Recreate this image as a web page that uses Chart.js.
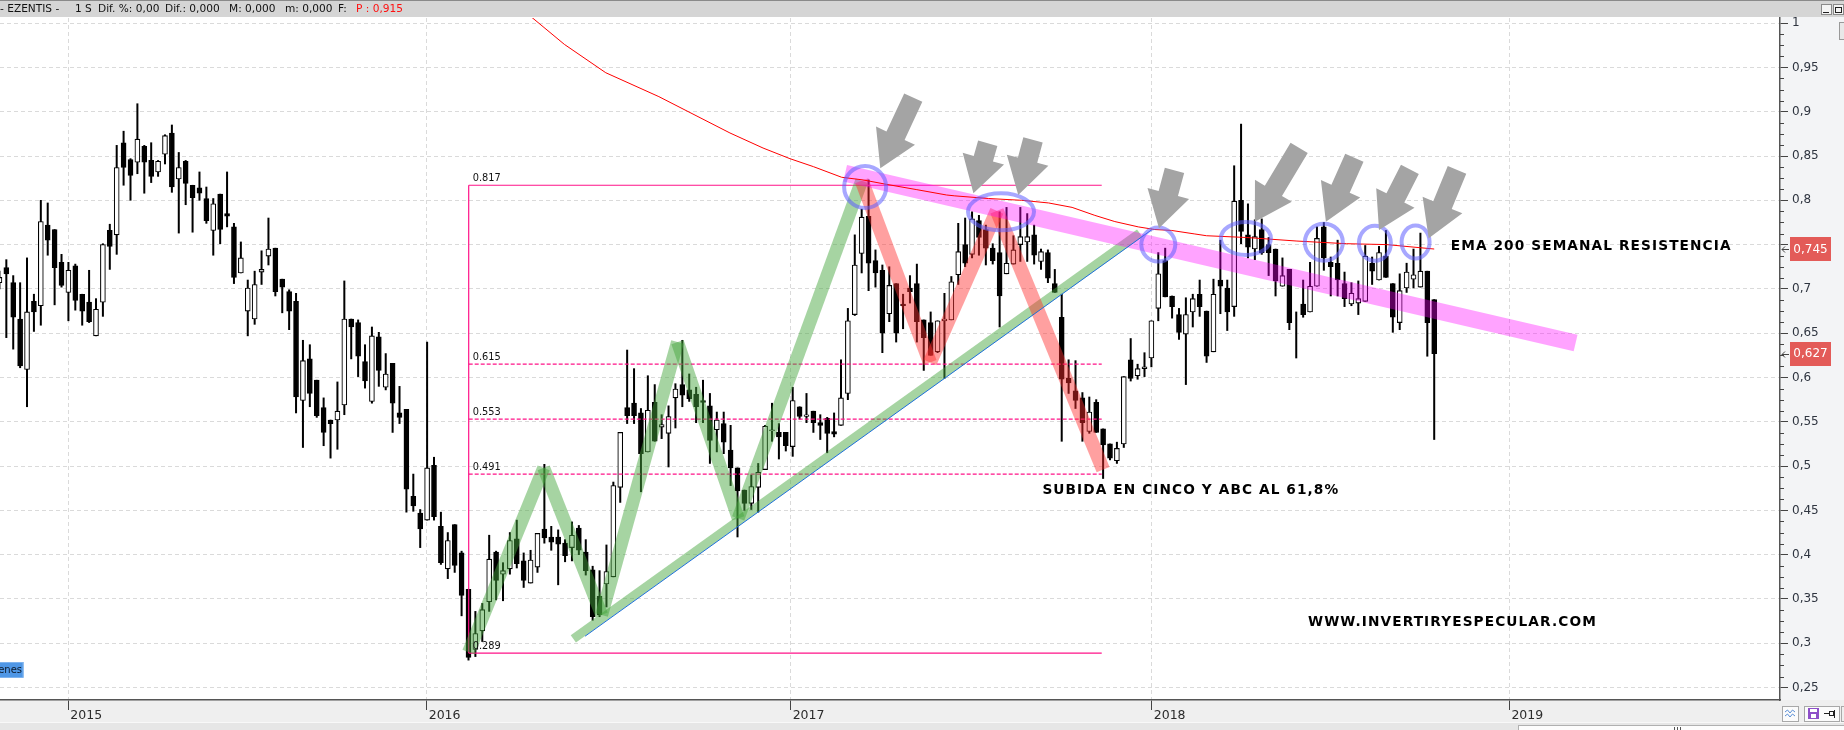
<!DOCTYPE html>
<html><head><meta charset="utf-8">
<script src="https://cdn.jsdelivr.net/npm/chart.js@4.4.1/dist/chart.umd.min.js"></script>
<style>html,body{margin:0;padding:0;background:#fff;overflow:hidden}canvas{display:block}</style>
</head><body>
<canvas id="c" width="1844" height="730"></canvas>
<script>
// ---- weekly OHLC (week index 0 = first visible week, late 2014) ----
const opens = [.707,.724,.707,.666,.609,.686,.681,.772,.767,.730,.696,.726,.694,.685,.647,.685,.766,.761,.865,.846,
.843,.861,.845,.832,.852,.876,.824,.844,.817,.814,.802,.766,.807,.785,.770,.718,.675,.666,.719,.737,
.746,.711,.697,.686,.574,.621,.597,.566,.552,.552,.569,.666,.662,.618,.573,.646,.589,.616,.560,.564,
.466,.447,.439,.501,.432,.384,.434,.402,.361,.293,.314,.347,.403,.378,.384,.418,.393,.368,.386,.429,
.420,.420,.413,.408,.430,.403,.383,.353,.367,.375,.476,.566,.571,.560,.516,.572,.544,.537,.577,.592,
.586,.581,.574,.568,.541,.548,.518,.498,.473,.458,.476,.496,.540,.538,.538,.522,.567,.556,.562,.549,
.554,.539,.546,.582,.671,.740,.782,.732,.721,.672,.706,.683,.701,.706,.665,.662,.629,.664,.665,.716,
.750,.739,.777,.767,.746,.741,.717,.728,.750,.753,.761,.731,.741,.706,.668,.599,.585,.577,.539,.572,
.542,.525,.506,.525,.620,.602,.610,.622,.678,.732,.692,.671,.649,.674,.694,.675,.629,.710,.701,.680,
.800,.761,.745,.767,.750,.745,.703,.722,.670,.683,.674,.703,.770,.730,.729,.706,.683,.684,.686,.729,
.710,.737,.706,.662,.701,.711,.702,.720,.688];
const highs = [.720,.733,.715,.707,.735,.694,.800,.797,.767,.739,.730,.728,.694,.721,.689,.751,.773,.862,.878,.847,
.909,.862,.865,.845,.874,.885,.854,.845,.817,.832,.815,.802,.807,.832,.774,.753,.710,.720,.743,.780,
.746,.711,.699,.695,.642,.637,.597,.577,.552,.595,.709,.666,.665,.637,.657,.651,.627,.616,.590,.564,
.491,.451,.640,.510,.448,.425,.434,.404,.361,.336,.345,.422,.404,.391,.425,.439,.402,.405,.424,.502,
.432,.428,.417,.437,.433,.417,.387,.382,.411,.482,.538,.631,.610,.565,.602,.592,.558,.568,.593,.642,
.604,.589,.597,.582,.561,.561,.546,.498,.473,.490,.503,.546,.571,.548,.538,.589,.567,.582,.562,.558,
.555,.560,.620,.678,.761,.790,.823,.744,.727,.725,.706,.694,.715,.728,.665,.674,.664,.695,.714,.774,
.780,.787,.783,.772,.751,.787,.792,.760,.792,.785,.772,.745,.744,.722,.694,.620,.619,.583,.578,.575,
.542,.525,.527,.601,.644,.615,.628,.664,.741,.746,.692,.678,.690,.694,.710,.675,.711,.755,.710,.839,
.886,.796,.778,.779,.758,.745,.735,.722,.674,.710,.730,.770,.775,.736,.755,.719,.707,.709,.749,.736,
.748,.766,.706,.717,.729,.745,.763,.720,.688];
const lows = [.700,.645,.632,.611,.567,.652,.659,.738,.682,.702,.664,.676,.659,.662,.647,.669,.722,.739,.817,.800,
.830,.808,.820,.827,.841,.809,.763,.795,.764,.800,.774,.738,.751,.770,.706,.718,.647,.660,.705,.727,
.692,.673,.654,.560,.521,.567,.555,.523,.509,.519,.558,.621,.601,.588,.571,.590,.586,.538,.548,.448,
.449,.408,.439,.439,.389,.373,.380,.331,.281,.285,.302,.336,.349,.348,.378,.385,.363,.368,.380,.413,
.405,.366,.392,.393,.400,.377,.326,.330,.341,.375,.459,.548,.548,.471,.516,.528,.531,.499,.543,.567,
.573,.549,.549,.503,.516,.514,.478,.420,.450,.451,.448,.496,.528,.508,.517,.511,.553,.549,.538,.530,
.515,.533,.546,.575,.670,.718,.698,.702,.628,.663,.640,.655,.684,.640,.608,.625,.628,.599,.665,.705,
.725,.735,.738,.727,.728,.657,.717,.728,.731,.731,.728,.722,.707,.696,.528,.582,.565,.528,.537,.538,
.486,.507,.503,.521,.596,.598,.601,.612,.664,.691,.667,.643,.592,.657,.669,.617,.629,.672,.653,.669,
.751,.735,.733,.739,.715,.692,.703,.654,.622,.668,.674,.703,.721,.692,.692,.680,.681,.671,.686,.705,
.710,.713,.651,.654,.696,.701,.702,.624,.530];
const closes = [.713,.717,.668,.613,.674,.674,.776,.755,.724,.704,.721,.687,.675,.663,.677,.750,.748,.837,.837,.828,
.869,.843,.827,.844,.873,.815,.837,.819,.803,.808,.777,.796,.767,.782,.713,.735,.701,.705,.722,.745,
.697,.702,.675,.578,.619,.582,.557,.538,.548,.562,.666,.657,.624,.596,.647,.608,.604,.571,.555,.474,
.455,.429,.498,.443,.391,.416,.388,.354,.284,.311,.338,.395,.371,.382,.416,.390,.371,.394,.424,.419,
.414,.412,.399,.422,.405,.382,.330,.332,.381,.478,.538,.557,.557,.514,.563,.528,.547,.556,.587,.580,
.576,.567,.572,.529,.552,.527,.498,.472,.458,.477,.493,.545,.541,.533,.523,.574,.556,.558,.549,.546,
.537,.536,.577,.664,.727,.781,.729,.718,.650,.704,.650,.681,.697,.663,.645,.625,.664,.666,.708,.742,
.729,.779,.758,.746,.732,.692,.729,.744,.759,.759,.738,.742,.712,.696,.598,.594,.574,.549,.561,.538,
.524,.509,.520,.601,.599,.610,.612,.664,.717,.691,.680,.651,.671,.689,.680,.624,.694,.703,.674,.799,
.765,.747,.759,.741,.741,.709,.715,.662,.670,.671,.703,.757,.735,.725,.710,.689,.695,.689,.737,.720,
.741,.713,.668,.698,.719,.716,.720,.662,.627];

// ---- axes ----
const yearLabels = ['2015','2016','2017','2018','2019'];
const yearWeeks = [9.98, 61.94, 114.7, 167.05, 218.9];
const yTickValues = [0.25,0.3,0.35,0.4,0.45,0.5,0.55,0.6,0.65,0.7,0.75,0.8,0.85,0.9,0.95,1];
const yTickLabels = ['0,25','0,3','0,35','0,4','0,45','0,5','0,55','0,6','0,65','0,7','0,75','0,8','0,85','0,9','0,95','1'];

// ---- EMA 200 weekly ----
const emaWeeks = [77.1,81.9,87.9,95.6,105.9,110.7,114.6,118.0,122.1,125.2,128.6,133.0,137.3,138.5,143.4,148.2,152.1,155.5,158.8,161.7,165.1,167.5,169.9,173.3,175.0,180.8,188.1,195.3,201.1,208.0];
const emaValues = [1.007,0.976,0.944,0.917,0.876,0.859,0.847,0.838,0.826,0.823,0.818,0.812,0.806,0.805,0.802,0.800,0.797,0.792,0.783,0.776,0.770,0.767,0.766,0.762,0.760,0.758,0.754,0.751,0.750,0.745];

// ---- Fibonacci retracement ----
const fibLevels = [0.817, 0.615, 0.553, 0.491, 0.289];
const fibLabels = ['0.817','0.615','0.553','0.491','0.289'];
const fibWeeks = [68.03, 159.8];

// ---- drawn waves and trend lines ----
const greenWaveWeeks = [68.0, 78.9, 87.3, 98.3, 107.1, 125.0];
const greenWavePrices = [0.290, 0.498, 0.332, 0.640, 0.441, 0.822];
const redWaveWeeks = [125.0, 134.9, 144.6, 160.0];
const redWavePrices = [0.822, 0.617, 0.788, 0.496];
const supportWeeks = [83.2, 165.3];
const supportPrices = [0.305, 0.763];
const blueWeeks = [84.9, 167.0];
const bluePrices = [0.308, 0.7665];
const resistWeeks = [122.6, 228.5];
const resistPrices = [0.8305, 0.639];

// ---- circles and arrows (anchors) ----
const circleWeeks = [125.5, 145.2, 168.0, 180.7, 192.0, 199.4, 205.3];
const circlePrices = [0.815, 0.787, 0.750, 0.757, 0.7526, 0.7515, 0.7529];
const arrowWeeks = [127.7, 141.2, 147.7, 168.1, 182.0, 192.3, 200.0, 207.2];
const arrowPrices = [0.8361, 0.8079, 0.8060, 0.7684, 0.7759, 0.7759, 0.7665, 0.7571];

// ---- notes ----
const noteTexts = ['EMA 200 SEMANAL RESISTENCIA', 'SUBIDA EN CINCO Y ABC AL 61,8%', 'WWW.INVERTIRYESPECULAR.COM'];
const noteWeeks = [210.4, 151.2, 189.7];
const notePrices = [0.7477, 0.4726, 0.3239];

// ===== styles (pixel sizes) =====
const circleRadii = [[21,21],[33,18.5],[17,17],[25,16.5],[19,18.5],[16,17.5],[14,16.5]];
const arrowStyle = {angle:[25,16,15,15,31,24,27,22.5], length:[78,52,57,60,86,70,68,74], headLen:36, headW:43, shaftW:20};

const weeks = opens.map((_, i) => i);
function lineDs(xs, ys, color, width, order, dash) {
  return {type:'line', data: xs.map((x,k)=>({x:x, y:ys[k]})), borderColor:color, borderWidth:width,
    pointRadius:0, pointHoverRadius:0, fill:false, tension:0, order:order, borderDash:dash||[],
    borderCapStyle:'butt', borderJoinStyle:'miter', clip: {left:0,top:0,right:0,bottom:0}};
}
const datasets = [];
datasets.push({type:'bar', data: weeks.map(i=>({x:i, y:[lows[i], highs[i]]})), backgroundColor:'#000',
  barThickness:1.35, grouped:false, order:20});
datasets.push({type:'bar', data: weeks.map(i=>({x:i, y:[Math.min(opens[i],closes[i]), Math.max(opens[i],closes[i])]})),
  backgroundColor: weeks.map(i=> closes[i] >= opens[i] ? '#fff' : '#000'), borderColor:'#000', borderWidth:1.1,
  borderSkipped:false, barThickness:5, grouped:false, order:19});
// fib
const fibColor = '#ff1288';
fibLevels.forEach((lv, k) => {
  const dashed = k > 0 && k < fibLevels.length - 1;
  datasets.push(lineDs(fibWeeks, [lv, lv], fibColor, 1.2, 15, dashed ? [4,2] : []));
});
datasets.push(lineDs([fibWeeks[0], fibWeeks[0]], [fibLevels[0], fibLevels[fibLevels.length-1]], fibColor, 1.2, 15));
// waves
for (let k = 0; k < greenWaveWeeks.length - 1; k++)
  datasets.push(lineDs(greenWaveWeeks.slice(k,k+2), greenWavePrices.slice(k,k+2), 'rgba(70,165,60,0.48)', 13, 12));
for (let k = 0; k < redWaveWeeks.length - 1; k++)
  datasets.push(lineDs(redWaveWeeks.slice(k,k+2), redWavePrices.slice(k,k+2), 'rgba(255,45,45,0.45)', 14, 11));
datasets.push(lineDs(supportWeeks, supportPrices, 'rgba(70,165,60,0.48)', 9, 12));
datasets.push(lineDs(blueWeeks, bluePrices, '#1d6fdc', 1, 9));
datasets.push(lineDs(resistWeeks, resistPrices, 'rgba(255,0,255,0.36)', 17, 10));
datasets.push(lineDs(emaWeeks, emaValues, '#ff0000', 1, 5));

const lastValues = [emaValues[emaValues.length-1], closes[closes.length-1]];

const deco = {
  id:'deco',
  beforeDraw(chart) {
    const ctx = chart.ctx;
    ctx.save();
    ctx.fillStyle = '#fff'; ctx.fillRect(0,0,1844,730);
    // right panel
    ctx.fillStyle = '#f3f4f6'; ctx.fillRect(1780,17,64,684);
    // bottom panel
    ctx.fillStyle = '#efefef'; ctx.fillRect(0,700,1844,30);
    ctx.fillStyle = '#f8f8f8'; ctx.fillRect(0,722,1844,1);
    ctx.fillStyle = '#e6e6e6'; ctx.fillRect(0,723,1844,7);
    // header
    ctx.fillStyle = '#d5d5d5'; ctx.fillRect(0,0,1844,17);
    ctx.fillStyle = '#8a8a8a'; ctx.fillRect(0,0,1844,1);
    ctx.font = '10.6px "DejaVu Sans"'; ctx.textBaseline = 'middle'; ctx.fillStyle = '#111';
    const parts = [[0,'- EZENTIS -'],[75,'1 S'],[98,'Dif. %: 0,00'],[165,'Dif.: 0,000'],[229,'M: 0,000'],[285,'m: 0,000'],[338,'F:']];
    parts.forEach(p => ctx.fillText(p[1], p[0], 9.5));
    ctx.fillStyle = '#ff1010'; ctx.fillText('P : 0,915', 356, 9.5);
    ctx.restore();
  },
  afterDatasetsDraw(chart) {
    const ctx = chart.ctx, xs = chart.scales.x, ys = chart.scales.y, a = chart.chartArea;
    ctx.save();
    ctx.beginPath(); ctx.rect(a.left, a.top, a.right - a.left, a.bottom - a.top); ctx.clip();
    // fib labels
    ctx.font = '9.8px "DejaVu Sans"'; ctx.fillStyle = '#111'; ctx.textBaseline = 'alphabetic';
    fibLevels.forEach((lv,k) => ctx.fillText(fibLabels[k], xs.getPixelForValue(fibWeeks[0]) + 4, ys.getPixelForValue(lv) - 4));
    // circles
    ctx.strokeStyle = 'rgba(95,95,255,0.55)'; ctx.lineWidth = 4;
    circleWeeks.forEach((w,k) => {
      ctx.beginPath();
      ctx.ellipse(xs.getPixelForValue(w), ys.getPixelForValue(circlePrices[k]), circleRadii[k][0], circleRadii[k][1], 0, 0, Math.PI*2);
      ctx.stroke();
    });
    // arrows
    ctx.fillStyle = '#a4a4a4';
    arrowWeeks.forEach((w,k) => {
      const tx = xs.getPixelForValue(w), ty = ys.getPixelForValue(arrowPrices[k]);
      const an = arrowStyle.angle[k]*Math.PI/180, len = arrowStyle.length[k];
      const dx = Math.sin(an), dy = -Math.cos(an), px = Math.cos(an), py = Math.sin(an);
      const hl = arrowStyle.headLen, hw = arrowStyle.headW/2, sw = arrowStyle.shaftW/2;
      const bx = tx + dx*hl, by = ty + dy*hl, ex = tx + dx*len, ey = ty + dy*len;
      ctx.beginPath();
      ctx.moveTo(tx,ty);
      ctx.lineTo(bx+px*hw, by+py*hw);
      ctx.lineTo(bx+px*sw, by+py*sw);
      ctx.lineTo(ex+px*sw, ey+py*sw);
      ctx.lineTo(ex-px*sw, ey-py*sw);
      ctx.lineTo(bx-px*sw, by-py*sw);
      ctx.lineTo(bx-px*hw, by-py*hw);
      ctx.closePath(); ctx.fill();
    });
    // notes
    ctx.font = 'bold 13.7px "DejaVu Sans"'; ctx.fillStyle = '#000'; ctx.textBaseline = 'middle';
    try { ctx.letterSpacing = '1.1px'; } catch(e) {}
    noteTexts.forEach((t,k) => ctx.fillText(t, xs.getPixelForValue(noteWeeks[k]), ys.getPixelForValue(notePrices[k])));
    ctx.restore();
  },
  afterDraw(chart) {
    const ctx = chart.ctx, ys = chart.scales.y, a = chart.chartArea;
    ctx.save();
    // minor ticks on price axis
    ctx.strokeStyle = '#444'; ctx.lineWidth = 1;
    for (let k = 0; k < yTickValues.length - 1; k++) {
      for (let m = 1; m <= 3; m++) {
        const v = yTickValues[k] + (yTickValues[k+1]-yTickValues[k])*m/4;
        const py = Math.round(ys.getPixelForValue(v)) + 0.5;
        ctx.beginPath(); ctx.moveTo(a.right, py); ctx.lineTo(a.right + 4, py); ctx.stroke();
      }
    }
    // last value labels
    lastValues.forEach(v => {
      const py = ys.getPixelForValue(v);
      ctx.fillStyle = '#e35b58'; ctx.fillRect(a.right + 10, Math.round(py) - 12, 41, 24);
      ctx.fillStyle = '#fff'; ctx.font = '12px "DejaVu Sans"'; ctx.textAlign = 'center'; ctx.textBaseline = 'middle';
      ctx.fillText(v.toFixed(3).replace('.', ','), a.right + 30.5, py + 0.5);
      ctx.strokeStyle = '#444'; ctx.lineWidth = 1;
      const yy = Math.round(py) + 0.5;
      ctx.beginPath(); ctx.moveTo(a.right + 2, yy); ctx.lineTo(a.right + 9, yy);
      ctx.moveTo(a.right + 5, yy - 3); ctx.lineTo(a.right + 2, yy); ctx.lineTo(a.right + 5, yy + 3); ctx.stroke();
    });
    ctx.textAlign = 'left';
    // 'enes' box
    ctx.fillStyle = '#4f97e6'; ctx.fillRect(0, 662, 23.5, 15.5);
    ctx.strokeStyle = '#7fb3ee'; ctx.lineWidth = 1; ctx.strokeRect(-1, 662.5, 24, 15);
    ctx.fillStyle = '#0d1a2b'; ctx.font = '10px "DejaVu Sans"'; ctx.textAlign = 'right'; ctx.textBaseline = 'middle';
    ctx.fillText('enes', 22, 670);
    ctx.textAlign = 'left';
    // top-right window buttons
    ctx.fillStyle = '#f4f4f4'; ctx.strokeStyle = '#8a8a8a';
    ctx.fillRect(1821, 4, 10, 10); ctx.strokeRect(1821.5, 4.5, 10, 10);
    ctx.fillRect(1833, 4, 10, 10); ctx.strokeRect(1833.5, 4.5, 10, 10);
    ctx.fillStyle = '#222'; ctx.fillRect(1823, 12, 6, 1); ctx.strokeStyle = '#222'; ctx.strokeRect(1835.5, 7.5, 6, 5);
    ctx.fillStyle = '#e8e8e8'; ctx.strokeStyle = '#999'; ctx.fillRect(1839, 22, 6, 18); ctx.strokeRect(1839.5, 22.5, 6, 17);
    // bottom-right buttons
    ctx.fillStyle = '#fbfbfb'; ctx.strokeStyle = '#a8a8a8';
    ctx.fillRect(1782, 706, 16, 15); ctx.strokeRect(1782.5, 706.5, 16, 15);
    ctx.fillRect(1804, 706, 35, 15); ctx.strokeRect(1804.5, 706.5, 35, 15);
    ctx.strokeRect(1841.5, 706.5, 6, 15);
    ctx.strokeStyle = '#5b8fd6'; ctx.lineWidth = 1;
    ctx.beginPath(); ctx.moveTo(1785, 712); ctx.lineTo(1787.5, 710); ctx.lineTo(1790, 713); ctx.lineTo(1792.5, 710); ctx.lineTo(1795, 712);
    ctx.moveTo(1785, 716); ctx.lineTo(1787.5, 714); ctx.lineTo(1790, 717); ctx.lineTo(1792.5, 714); ctx.lineTo(1795, 716); ctx.stroke();
    ctx.fillStyle = '#8e4fc9'; ctx.fillRect(1808, 708, 11, 11);
    ctx.fillStyle = '#fff'; ctx.fillRect(1810, 709, 7, 3); ctx.fillRect(1811, 714, 5, 4);
    ctx.strokeStyle = '#222'; ctx.beginPath(); ctx.moveTo(1824, 713.5); ctx.lineTo(1829, 713.5); ctx.stroke();
    ctx.strokeRect(1829.5, 711.5, 4, 4); ctx.beginPath(); ctx.moveTo(1834.5, 710); ctx.lineTo(1834.5, 718); ctx.stroke();
    // scrollbar
    ctx.fillStyle = '#fdfdfd'; ctx.strokeStyle = '#b0b0b0';
    ctx.fillRect(1518, 725, 330, 6); ctx.strokeRect(1518.5, 725.5, 330, 6);
    ctx.fillStyle = '#555'; ctx.fillRect(1674, 727, 1, 3); ctx.fillRect(1677, 727, 1, 3); ctx.fillRect(1680, 727, 1, 3);
    ctx.restore();
  }
};

new Chart(document.getElementById('c'), {
  type:'bar',
  data:{datasets: datasets},
  plugins:[deco],
  options:{
    responsive:false, animation:false, devicePixelRatio:1, events:[],
    layout:{padding:{top:18, left:0, right:0, bottom:0}},
    plugins:{legend:{display:false}, tooltip:{enabled:false}},
    scales:{
      x:{type:'linear', position:'bottom', min:0.0826, max:258.13, offset:false, bounds:'data',
        afterBuildTicks: s => { s.ticks = yearWeeks.map(v => ({value:v})); },
        afterFit: s => { s.height = 30; },
        ticks:{callback:(v,i) => yearLabels[i], autoSkip:false, maxRotation:0, minRotation:0, align:'start',
          labelOffset:2, padding:-2, color:'#2b2b2b', font:{family:'DejaVu Sans', size:12.5}},
        grid:{offset:false, color:'#dadada', lineWidth:1, drawTicks:true, tickLength:10, tickColor:'#444', tickWidth:1},
        border:{display:true, color:'#555', width:1.5, dash:[4,3]}
      },
      y:{type:'linear', position:'right', min:0.236, max:1.00576, bounds:'data', beginAtZero:false,
        afterBuildTicks: s => { s.ticks = yTickValues.map(v => ({value:v})); },
        afterFit: s => { s.width = 64; },
        ticks:{callback:(v,i) => yTickLabels[i], autoSkip:false, padding:4, crossAlign:'near', color:'#2f3540',
          font:{family:'DejaVu Sans', size:12}},
        grid:{color:'#dadada', lineWidth:1, drawTicks:true, tickLength:8, tickColor:'#444', tickWidth:1},
        border:{display:true, color:'#555', width:1.5, dash:[4,3]}
      }
    }
  }
});
</script>
</body></html>
